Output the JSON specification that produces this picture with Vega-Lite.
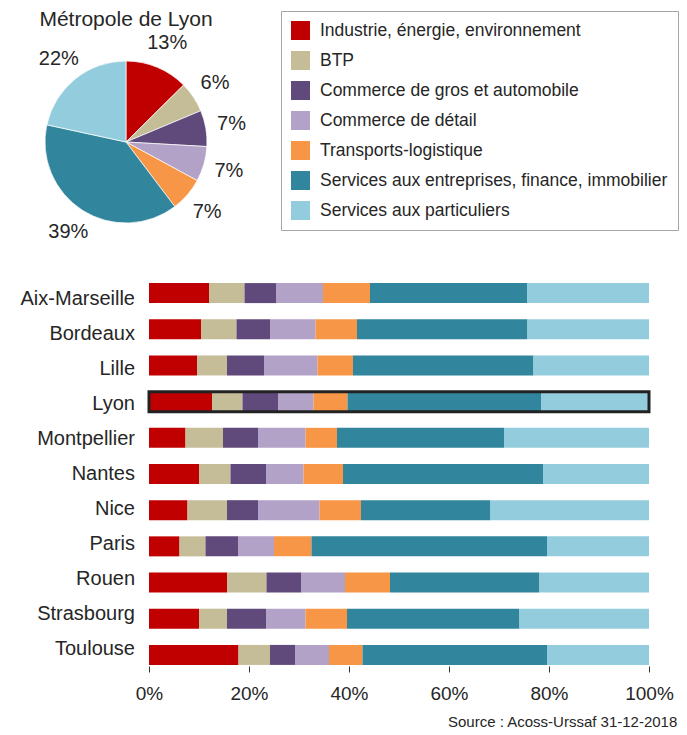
{
  "$schema": "https://vega.github.io/schema/vega-lite/v6.json",
  "padding": {"left": 14, "top": 9, "right": 5, "bottom": 5},
  "config": {"font": "Liberation Sans", "view": {"stroke": null}},
  "datasets": {
    "sectors": [
      {"s": 1, "sector": "Industrie, énergie, environnement"},
      {"s": 2, "sector": "BTP"},
      {"s": 3, "sector": "Commerce de gros et automobile"},
      {"s": 4, "sector": "Commerce de détail"},
      {"s": 5, "sector": "Transports-logistique"},
      {"s": 6, "sector": "Services aux entreprises, finance, immobilier"},
      {"s": 7, "sector": "Services aux particuliers"}
    ],
    "cities": [
      {"city": "Aix-Marseille"}, {"city": "Bordeaux"}, {"city": "Lille"}, {"city": "Lyon"},
      {"city": "Montpellier"}, {"city": "Nantes"}, {"city": "Nice"}, {"city": "Paris"},
      {"city": "Rouen"}, {"city": "Strasbourg"}, {"city": "Toulouse"}
    ],
    "shares": [
      {"city": "Aix-Marseille", "s": 1, "value": 0.120},
      {"city": "Aix-Marseille", "s": 2, "value": 0.071},
      {"city": "Aix-Marseille", "s": 3, "value": 0.063},
      {"city": "Aix-Marseille", "s": 4, "value": 0.094},
      {"city": "Aix-Marseille", "s": 5, "value": 0.094},
      {"city": "Aix-Marseille", "s": 6, "value": 0.314},
      {"city": "Aix-Marseille", "s": 7, "value": 0.244},
      {"city": "Bordeaux", "s": 1, "value": 0.104},
      {"city": "Bordeaux", "s": 2, "value": 0.071},
      {"city": "Bordeaux", "s": 3, "value": 0.067},
      {"city": "Bordeaux", "s": 4, "value": 0.091},
      {"city": "Bordeaux", "s": 5, "value": 0.083},
      {"city": "Bordeaux", "s": 6, "value": 0.341},
      {"city": "Bordeaux", "s": 7, "value": 0.243},
      {"city": "Lille", "s": 1, "value": 0.096},
      {"city": "Lille", "s": 2, "value": 0.060},
      {"city": "Lille", "s": 3, "value": 0.074},
      {"city": "Lille", "s": 4, "value": 0.107},
      {"city": "Lille", "s": 5, "value": 0.071},
      {"city": "Lille", "s": 6, "value": 0.361},
      {"city": "Lille", "s": 7, "value": 0.231},
      {"city": "Lyon", "s": 1, "value": 0.126},
      {"city": "Lyon", "s": 2, "value": 0.061},
      {"city": "Lyon", "s": 3, "value": 0.072},
      {"city": "Lyon", "s": 4, "value": 0.070},
      {"city": "Lyon", "s": 5, "value": 0.068},
      {"city": "Lyon", "s": 6, "value": 0.387},
      {"city": "Lyon", "s": 7, "value": 0.216},
      {"city": "Montpellier", "s": 1, "value": 0.073},
      {"city": "Montpellier", "s": 2, "value": 0.075},
      {"city": "Montpellier", "s": 3, "value": 0.070},
      {"city": "Montpellier", "s": 4, "value": 0.095},
      {"city": "Montpellier", "s": 5, "value": 0.063},
      {"city": "Montpellier", "s": 6, "value": 0.334},
      {"city": "Montpellier", "s": 7, "value": 0.290},
      {"city": "Nantes", "s": 1, "value": 0.100},
      {"city": "Nantes", "s": 2, "value": 0.063},
      {"city": "Nantes", "s": 3, "value": 0.071},
      {"city": "Nantes", "s": 4, "value": 0.075},
      {"city": "Nantes", "s": 5, "value": 0.079},
      {"city": "Nantes", "s": 6, "value": 0.400},
      {"city": "Nantes", "s": 7, "value": 0.212},
      {"city": "Nice", "s": 1, "value": 0.077},
      {"city": "Nice", "s": 2, "value": 0.079},
      {"city": "Nice", "s": 3, "value": 0.062},
      {"city": "Nice", "s": 4, "value": 0.123},
      {"city": "Nice", "s": 5, "value": 0.083},
      {"city": "Nice", "s": 6, "value": 0.259},
      {"city": "Nice", "s": 7, "value": 0.317},
      {"city": "Paris", "s": 1, "value": 0.061},
      {"city": "Paris", "s": 2, "value": 0.052},
      {"city": "Paris", "s": 3, "value": 0.066},
      {"city": "Paris", "s": 4, "value": 0.071},
      {"city": "Paris", "s": 5, "value": 0.075},
      {"city": "Paris", "s": 6, "value": 0.471},
      {"city": "Paris", "s": 7, "value": 0.204},
      {"city": "Rouen", "s": 1, "value": 0.156},
      {"city": "Rouen", "s": 2, "value": 0.079},
      {"city": "Rouen", "s": 3, "value": 0.070},
      {"city": "Rouen", "s": 4, "value": 0.087},
      {"city": "Rouen", "s": 5, "value": 0.090},
      {"city": "Rouen", "s": 6, "value": 0.299},
      {"city": "Rouen", "s": 7, "value": 0.219},
      {"city": "Strasbourg", "s": 1, "value": 0.100},
      {"city": "Strasbourg", "s": 2, "value": 0.056},
      {"city": "Strasbourg", "s": 3, "value": 0.078},
      {"city": "Strasbourg", "s": 4, "value": 0.079},
      {"city": "Strasbourg", "s": 5, "value": 0.083},
      {"city": "Strasbourg", "s": 6, "value": 0.345},
      {"city": "Strasbourg", "s": 7, "value": 0.259},
      {"city": "Toulouse", "s": 1, "value": 0.179},
      {"city": "Toulouse", "s": 2, "value": 0.063},
      {"city": "Toulouse", "s": 3, "value": 0.050},
      {"city": "Toulouse", "s": 4, "value": 0.068},
      {"city": "Toulouse", "s": 5, "value": 0.067},
      {"city": "Toulouse", "s": 6, "value": 0.369},
      {"city": "Toulouse", "s": 7, "value": 0.204}
    ]
  },
  "spacing": 30,
  "vconcat": [
    {
      "width": 224,
      "height": 220,
      "title": {"text": "Métropole de Lyon", "fontSize": 21, "fontWeight": "normal", "color": "#262626", "offset": 2},
      "data": {"name": "shares"},
      "transform": [
        {"filter": "datum.city === 'Lyon'"},
        {"lookup": "s", "from": {"data": {"name": "sectors"}, "key": "s", "fields": ["sector"]}}
      ],
      "encoding": {
        "theta": {"field": "value", "type": "quantitative", "stack": true},
        "order": {"field": "s", "type": "quantitative"}
      },
      "layer": [
        {
          "mark": {"type": "arc", "outerRadius": 81, "stroke": "white", "strokeWidth": 0.7},
          "encoding": {
            "color": {
              "field": "sector",
              "type": "nominal",
              "scale": {
                "domain": ["Industrie, énergie, environnement", "BTP", "Commerce de gros et automobile", "Commerce de détail", "Transports-logistique", "Services aux entreprises, finance, immobilier", "Services aux particuliers"],
                "range": ["#C00000", "#C4BD97", "#604A7B", "#B3A2C7", "#F79646", "#31859C", "#93CDDD"]
              },
              "legend": {
                "orient": "none",
                "legendX": 267,
                "legendY": -21,
                "title": null,
                "symbolType": "square",
                "symbolSize": 361,
                "symbolStrokeWidth": 0,
                "symbolOpacity": 1,
                "labelFontSize": 17.5,
                "labelColor": "#262626",
                "labelOffset": 10,
                "labelLimit": 420,
                "rowPadding": 11,
                "padding": 10,
                "strokeColor": "#a6a6a6",
                "direction": "vertical"
              }
            }
          }
        },
        {
          "mark": {"type": "text", "radius": 107, "fontSize": 20, "color": "#262626"},
          "encoding": {"text": {"field": "value", "type": "quantitative", "format": ".0%"}}
        }
      ]
    },
    {
      "spacing": 0,
      "hconcat": [
        {
          "width": 121,
          "height": 384,
          "data": {"name": "cities"},
          "mark": {"type": "text", "align": "right", "baseline": "middle", "fontSize": 20, "color": "#262626"},
          "encoding": {
            "y": {
              "field": "city", "type": "nominal",
              "sort": ["Aix-Marseille", "Bordeaux", "Lille", "Lyon", "Montpellier", "Nantes", "Nice", "Paris", "Rouen", "Strasbourg", "Toulouse"],
              "scale": {"paddingInner": 0.447, "paddingOuter": 0.03},
              "axis": null
            },
            "x": {"datum": 1, "type": "quantitative", "scale": {"domain": [0, 1]}, "axis": null},
            "text": {"field": "city", "type": "nominal"}
          }
        },
        {
          "width": 500,
          "height": 384,
          "title": {"text": "Source : Acoss-Urssaf 31-12-2018", "orient": "bottom", "anchor": "end", "fontSize": 15, "fontWeight": "normal", "color": "#262626", "dx": 4, "offset": 12},
          "data": {"name": "shares"},
          "layer": [
            {
              "transform": [
                {"lookup": "s", "from": {"data": {"name": "sectors"}, "key": "s", "fields": ["sector"]}}
              ],
              "mark": "bar",
              "encoding": {
                "y": {
                  "field": "city", "type": "nominal",
                  "sort": ["Aix-Marseille", "Bordeaux", "Lille", "Lyon", "Montpellier", "Nantes", "Nice", "Paris", "Rouen", "Strasbourg", "Toulouse"],
                  "scale": {"paddingInner": 0.447, "paddingOuter": 0.03},
                  "axis": null
                },
                "x": {
                  "field": "value", "type": "quantitative", "stack": "zero",
                  "scale": {"domain": [0, 1]},
                  "axis": {"title": null, "domain": false, "grid": false, "format": ".0%", "values": [0, 0.2, 0.4, 0.6, 0.8, 1], "tickSize": 6, "tickColor": "#333333", "labelFontSize": 19, "labelColor": "#262626", "labelPadding": 12, "labelFlush": false}
                },
                "color": {
                  "field": "sector", "type": "nominal",
                  "scale": {
                    "domain": ["Industrie, énergie, environnement", "BTP", "Commerce de gros et automobile", "Commerce de détail", "Transports-logistique", "Services aux entreprises, finance, immobilier", "Services aux particuliers"],
                    "range": ["#C00000", "#C4BD97", "#604A7B", "#B3A2C7", "#F79646", "#31859C", "#93CDDD"]
                  },
                  "legend": null
                },
                "order": {"field": "s", "type": "quantitative"}
              }
            },
            {
              "transform": [{"filter": "datum.city === 'Lyon'"}],
              "mark": {"type": "bar", "fillOpacity": 0, "stroke": "#222222", "strokeWidth": 3},
              "encoding": {
                "y": {"field": "city", "type": "nominal", "sort": ["Aix-Marseille", "Bordeaux", "Lille", "Lyon", "Montpellier", "Nantes", "Nice", "Paris", "Rouen", "Strasbourg", "Toulouse"]},
                "x": {"aggregate": "sum", "field": "value", "type": "quantitative"}
              }
            }
          ]
        }
      ]
    }
  ]
}
